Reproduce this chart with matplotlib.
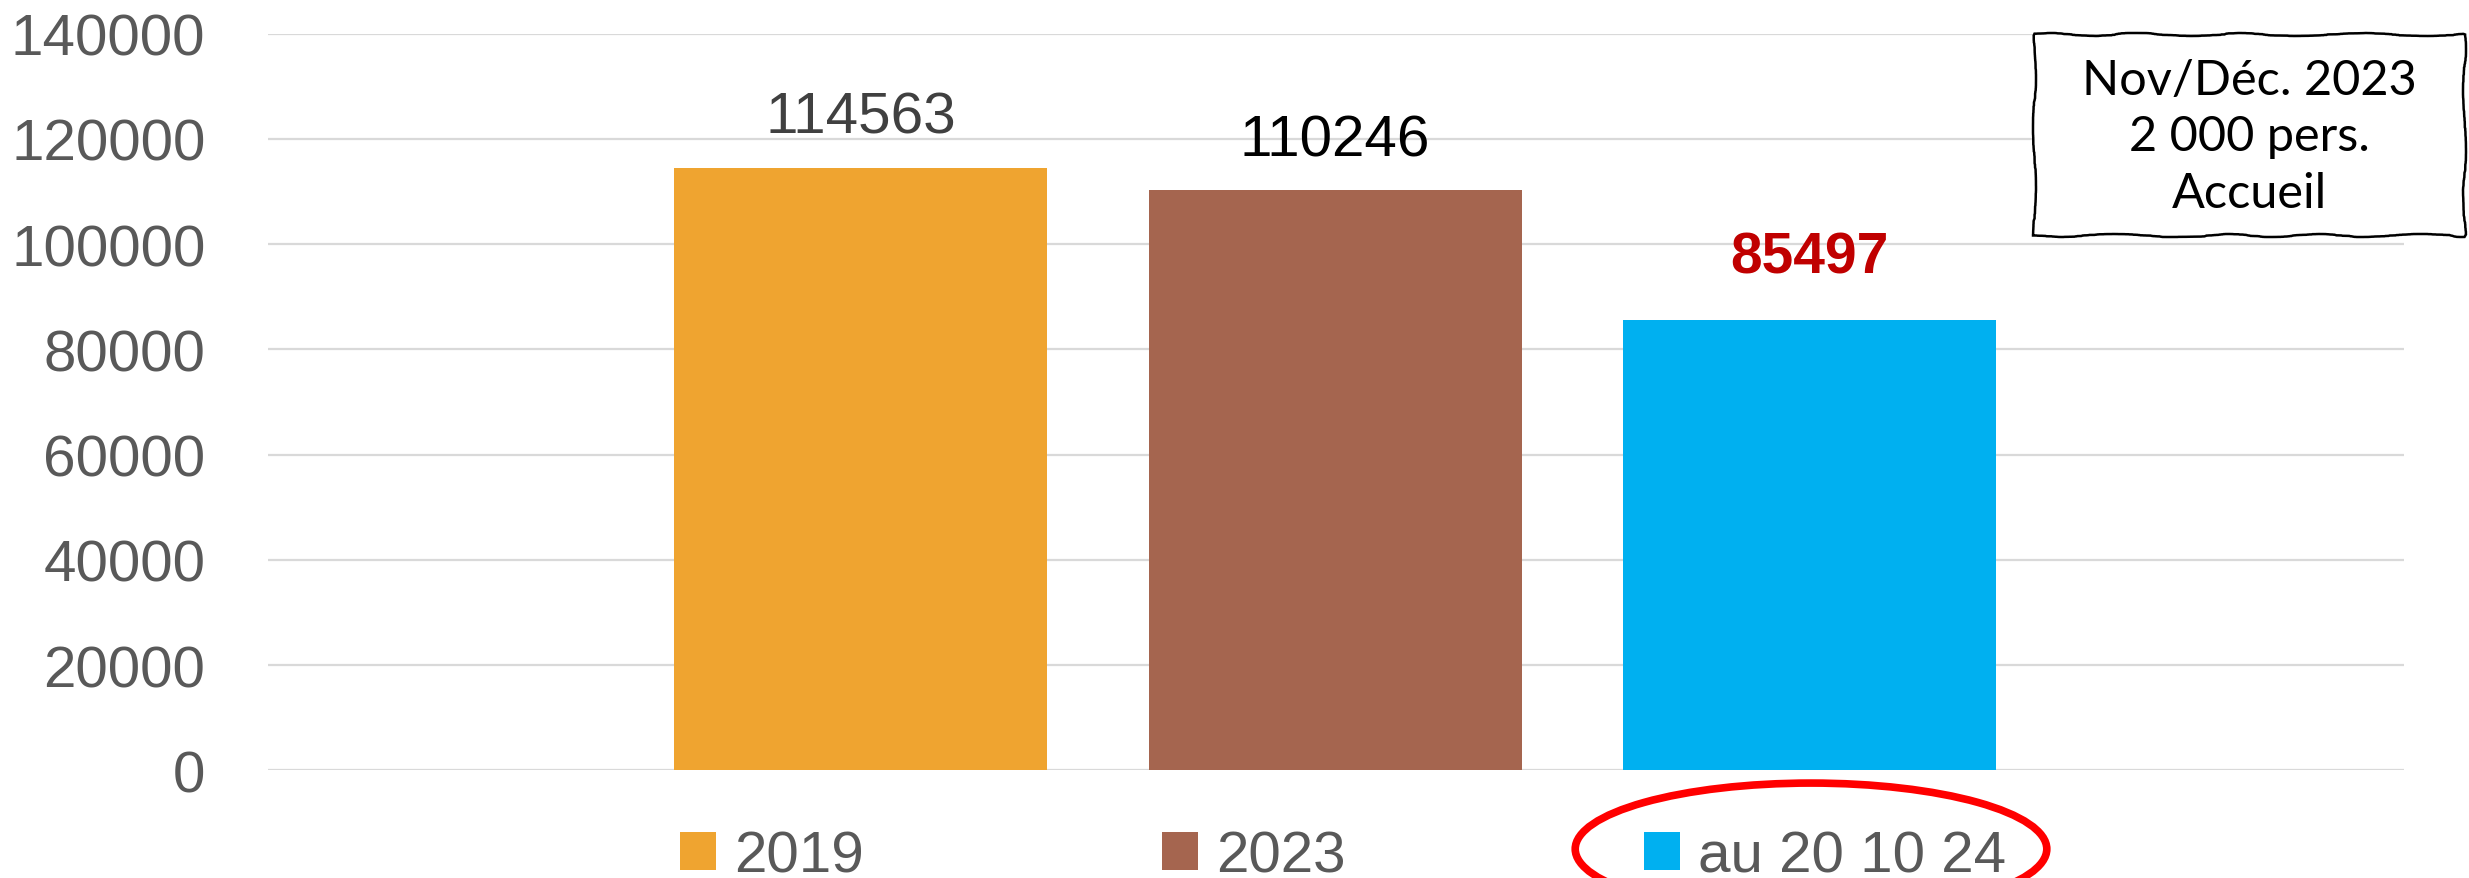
import matplotlib
matplotlib.use("Agg")
import matplotlib.pyplot as plt
from matplotlib.patches import Patch, Ellipse, FancyBboxPatch

# data
series = ["2019", "2023", "au 20 10 24"]
values = [114563, 110246, 85497]
colors = ["#EFA430", "#A5654F", "#00B0F0"]
label_colors = ["#404040", "#000000", "#C00000"]
yticks = [0, 20000, 40000, 60000, 80000, 100000, 120000, 140000]
note_text = "Nov/Déc. 2023\n2 000 pers.\nAccueil"

FONT = ["Liberation Sans", "DejaVu Sans"]

fig = plt.figure(figsize=(24.69, 8.79), dpi=100)
ax = fig.add_axes([0.1085, 0.1223, 0.8652, 0.8383])

x = list(range(len(values)))
ax.bar(x, values, width=0.786, color=colors, zorder=2)

ax.set_ylim(0, 140000)
ax.set_xlim(-1.249, 3.253)
ax.set_yticks(yticks)
ax.set_yticklabels([str(v) for v in yticks], family=FONT, fontsize=42, color="#595959")
ax.set_xticks([])
ax.tick_params(axis="y", length=0, pad=45)
ax.grid(axis="y", color="#D9D9D9", linewidth=1.6, zorder=0)
for s in ax.spines.values():
    s.set_visible(False)

# data labels
for i, v in enumerate(values):
    if i == 2:
        ax.annotate(str(v), (x[i], v), xytext=(0, 45), textcoords="offset points",
                    ha="center", va="center", fontsize=41, fontweight="bold",
                    family=FONT, color=label_colors[i])
    else:
        ax.annotate(str(v), (x[i], v), xytext=(0, 36), textcoords="offset points",
                    ha="center", va="center", fontsize=42, family=FONT,
                    color=label_colors[i])

# legend
handles = [Patch(facecolor=c, edgecolor="none") for c in colors]
leg = fig.legend(handles, series, loc="center left", bbox_to_anchor=(0.2754, 0.024),
                 ncol=3, frameon=False, handlelength=0.62, handleheight=0.62,
                 handletextpad=0.3, columnspacing=5.12, borderpad=0, borderaxespad=0,
                 prop={"family": FONT, "size": 42})
for t in leg.get_texts():
    t.set_color("#595959")

# red ellipse around last legend entry
ell = Ellipse((0.7335, 0.033), 0.191, 0.150, transform=fig.transFigure,
              fill=False, edgecolor="#FF0000", linewidth=5.5, clip_on=False)
fig.patches.append(ell)

# annotation box
box = FancyBboxPatch((0.824, 0.7315), 0.174, 0.2285, boxstyle="square,pad=0",
                     transform=fig.transFigure, facecolor="white", edgecolor="black",
                     linewidth=1.8)
box.set_sketch_params(scale=1.5, length=300, randomness=15)
fig.patches.append(box)
fig.text(0.911, 0.844, note_text, ha="center", va="center", fontsize=35,
         family=["Lato", "DejaVu Sans"], linespacing=1.35, color="black")

fig.savefig("out.png", dpi=100)
